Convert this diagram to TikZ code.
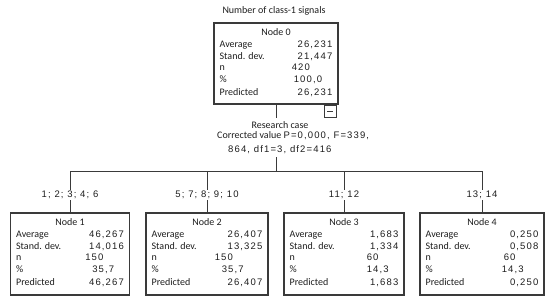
\documentclass[tikz,border=0pt]{standalone}
\usepackage{fontspec}
\setmainfont{Carlito}
\newfontfamily\numfont{Liberation Sans}[LetterSpace=12]
\usetikzlibrary{calc}
\definecolor{ink}{HTML}{1E1E1E}
\definecolor{edge}{HTML}{3A3A3A}
\tikzset{
  box/.style={draw=edge,line width=1.1pt,minimum height=81pt,inner sep=0pt},
  lbl/.style={inner sep=0pt,text=ink,font=\fontsize{10}{12}\selectfont},
  num/.style={inner sep=0pt,text=ink,font=\fontsize{9.5}{12}\selectfont\numfont},
  conn/.style={draw=edge,line width=0.9pt},
  brl/.style={fill=white,inner sep=1pt,text=ink,font=\fontsize{9.5}{12}\selectfont\numfont}
}
% #1 name, #2 title, #3 avg, #4 sd, #5 n, #6 pct, #7 pred, #8 n offset, #9 pct offset
\newcommand\statbox[9]{%
  \node[lbl,anchor=base] (#1-t) at ($(#1.north)+(0,-13.3)$) {#2};
  \node[lbl,anchor=base west] (#1-la) at ($(#1.north west)+(6,-24.8)$) {Average};
  \node[lbl,anchor=base west] (#1-ls) at ($(#1.north west)+(6,-37)$) {Stand. dev.};
  \node[lbl,anchor=base west] (#1-ln) at ($(#1.north west)+(6,-48.5)$) {n};
  \node[lbl,anchor=base west] (#1-lp) at ($(#1.north west)+(6,-60.5)$) {\%};
  \node[lbl,anchor=base west] (#1-lr) at ($(#1.north west)+(6,-73)$) {Predicted};
  \node[num,anchor=base east] (#1-va) at ($(#1.north east)+(-6,-24.8)$) {#3};
  \node[num,anchor=base east] (#1-vs) at ($(#1.north east)+(-6,-37)$) {#4};
  \node[num,anchor=base west] (#1-vn) at ($(#1.north east)+(-#8,-48.5)$) {#5};
  \node[num,anchor=base west] (#1-vp) at ($(#1.north east)+(-#9,-60.5)$) {#6};
  \node[num,anchor=base east] (#1-vr) at ($(#1.north east)+(-6,-73)$) {#7};
}
\begin{document}
\begin{tikzpicture}[x=1pt,y=1pt]
\useasboundingbox[fill=white] (0,0) rectangle (550,-303);

\node[lbl,anchor=base] (title) at (274,-13.5) {Number of class-1 signals};

\node[box,minimum width=124pt] (n0) at (276,-63.5) {};
\statbox{n0}{Node 0}{26,231}{21,447}{420}{100,0}{26,231}{47}{45}
\node[draw=edge,line width=0.9pt,minimum size=12pt,inner sep=0pt,anchor=north east] (mb) at ($(n0.south east)+(-2,0)$) {};
\draw[edge,line width=0.9pt] ($(mb.center)+(-3,0)$) -- ($(mb.center)+(3,0)$);

\coordinate (d0) at (276,-118);
\draw[conn] (n0.south -| d0) -- (d0);

\node[lbl,anchor=base] (rc1) at (280,-128.5) {Research case};
\node[lbl,anchor=base west] (rc2) at (217,-138.5) {Corrected value {\numfont\fontsize{9.5}{12}\selectfont P=0,000, F=339,}};
\node[num,anchor=base west] (rc3) at (228,-152.5) {864, df1=3, df2=416};

\coordinate (j1) at (276,-157);
\coordinate (hub) at (276,-171.5);
\draw[conn] (j1) -- (hub);

\node[box,minimum width=119pt,minimum height=82pt] (n1) at (70,-254) {};
\node[box,minimum width=122pt,minimum height=82pt] (n2) at (207,-254) {};
\node[box,minimum width=120pt,minimum height=82pt] (n3) at (344,-254) {};
\node[box,minimum width=124pt,minimum height=82pt] (n4) at (482,-254) {};

\draw[conn] (n1.north) -- (n1.north |- hub) -- (n4.north |- hub) -- (n4.north);
\draw[conn] (n2.north) -- (n2.north |- hub);
\draw[conn] (n3.north) -- (n3.north |- hub);

\node[brl] (b1) at (70,-195) {1;\ 2;\ 3;\ 4;\ 6};
\node[brl] (b2) at (207,-195) {5;\ 7;\ 8;\ 9;\ 10};
\node[brl] (b3) at (344,-195) {11;\ 12};
\node[brl] (b4) at (482,-195) {13;\ 14};

\statbox{n1}{Node 1}{46,267}{14,016}{150}{35,7}{46,267}{45}{38}
\statbox{n2}{Node 2}{26,407}{13,325}{150}{35,7}{26,407}{54}{47}
\statbox{n3}{Node 3}{1,683}{1,334}{60}{14,3}{1,683}{38}{38}
\statbox{n4}{Node 4}{0,250}{0,508}{60}{14,3}{0,250}{41}{43}
\end{tikzpicture}
\end{document}
